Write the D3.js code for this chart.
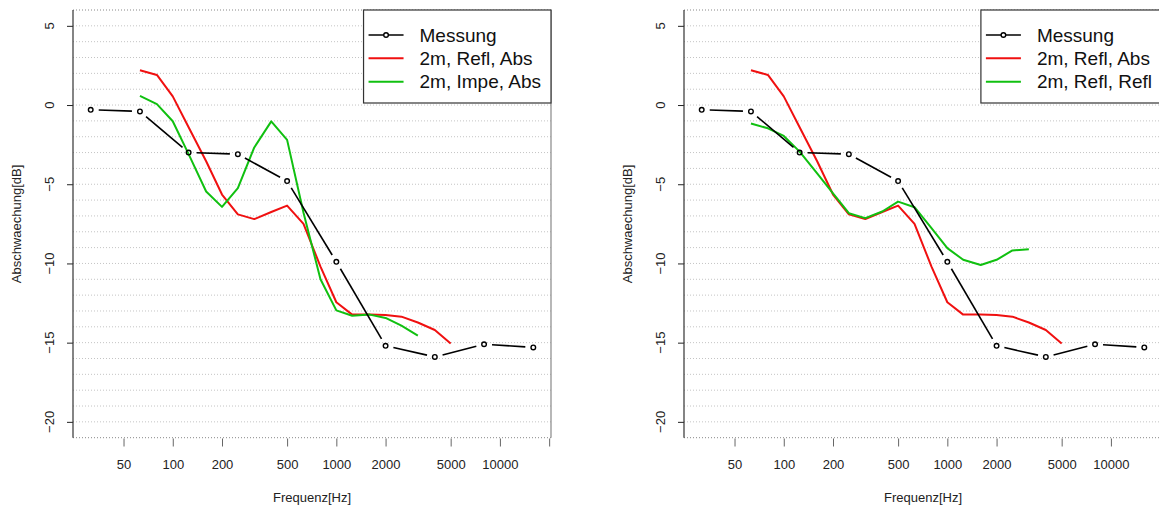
<!DOCTYPE html>
<html>
<head>
<meta charset="utf-8">
<script src="https://cdn.jsdelivr.net/npm/d3@7"></script>
<style>
  html, body { margin: 0; padding: 0; background: #fff; overflow: hidden; }
  svg { display: block; font-family: "Liberation Sans", Arial, sans-serif; }
</style>
</head>
<body>
<svg id="chart" width="1159" height="508"></svg>
<script>
// ---- data ----
const freqOct = [31.5, 63, 125, 250, 500, 1000, 2000, 4000, 8000, 16000];
const messung = [-0.3, -0.4, -3.0, -3.1, -4.8, -9.9, -15.2, -15.9, -15.1, -15.3];
const freqThird = [63, 80, 100, 125, 160, 200, 250, 315, 400, 500, 630, 800, 1000, 1250, 1600, 2000, 2500, 3150, 4000, 5000];
const reflAbs = [2.2, 1.9, 0.55, -1.4, -3.55, -5.65, -6.9, -7.2, -6.75, -6.35, -7.5, -10.2, -12.45, -13.23, -13.23, -13.25, -13.36, -13.73, -14.2, -15.05];
const impeAbs = [0.58, 0.06, -1.02, -3.1, -5.46, -6.43, -5.25, -2.68, -1.03, -2.2, -6.8, -11.0, -12.96, -13.3, -13.23, -13.44, -13.93, -14.55];
const reflRefl = [-1.16, -1.47, -1.95, -2.94, -4.31, -5.57, -6.83, -7.14, -6.72, -6.1, -6.45, -7.77, -9.03, -9.77, -10.1, -9.77, -9.18, -9.1];
const xTickValues = [50, 100, 200, 500, 1000, 2000, 5000, 10000, 20000];
const xTickLabels = ["50", "100", "200", "500", "1000", "2000", "5000", "10000", ""];
const yTickValues = [5, 0, -5, -10, -15, -20];
const legendLeft = ["Messung", "2m, Refl, Abs", "2m, Impe, Abs"];
const legendRight = ["Messung", "2m, Refl, Abs", "2m, Refl, Refl"];
const xTitle = "Frequenz[Hz]";
const yTitle = "Abschwaechung[dB]";

const RED = "#f01010", GREEN = "#10c010", BLACK = "#000";

const svg = d3.select("#chart");

function panel(offset, greenSeries, legendLabels) {
  const g = svg.append("g").attr("transform", `translate(${offset},0)`);
  const lo = Math.log10(31.5), hi = Math.log10(16000), ext = (hi - lo) * 0.04;
  const x = d3.scaleLog().domain([Math.pow(10, lo - ext), Math.pow(10, hi + ext)]).range([73, 551]);
  const y = d3.scaleLinear().domain([-21, 6]).range([437.7, 10]);

  // grid (dotted)
  const gridVals = d3.range(-21, 7);
  g.selectAll(".grid").data(gridVals).enter().append("line")
    .attr("x1", 73).attr("x2", 551)
    .attr("y1", d => y(d)).attr("y2", d => y(d))
    .attr("stroke", d => (d === -21 || d === 6) ? "#888" : "#c4c4c4")
    .attr("stroke-width", 1)
    .attr("stroke-dasharray", "1,2");

  // right border
  g.append("line").attr("x1", 551).attr("x2", 551).attr("y1", 10).attr("y2", 437.7)
    .attr("stroke", "#888").attr("stroke-width", 1.2);

  // y axis
  const yAxis = d3.axisLeft(y).tickValues(yTickValues).tickSize(6).tickFormat(d3.format("d"));
  const ya = g.append("g").attr("transform", "translate(73,0)").call(yAxis);
  ya.select(".domain").remove();
  ya.selectAll(".tick line").attr("stroke", "#222");
  ya.selectAll(".tick text").remove();
  g.append("line").attr("x1", 73).attr("x2", 73).attr("y1", 10).attr("y2", 437.7)
    .attr("stroke", "#333").attr("stroke-width", 1.2);
  g.selectAll(".ylab").data(yTickValues).enter().append("text")
    .attr("transform", d => `translate(53.5,${y(d)}) rotate(-90)`)
    .attr("text-anchor", "middle").attr("font-size", 13).attr("fill", "#222")
    .text(d => d3.format("d")(d));

  // x axis
  const xAxis = d3.axisBottom(x).tickValues(xTickValues).tickSize(8).tickFormat((d, i) => xTickLabels[i]);
  const xa = g.append("g").attr("transform", "translate(0,438.5)").call(xAxis);
  xa.select(".domain").remove();
  xa.selectAll(".tick line").attr("stroke", "#666");
  xa.selectAll(".tick text").attr("font-size", 13).attr("fill", "#222").attr("dy", null).attr("y", 30.5)
    .attr("font-family", "Liberation Sans, Arial, sans-serif");

  // axis titles
  g.append("text").attr("x", 312).attr("y", 502).attr("text-anchor", "middle")
    .attr("font-size", 13).attr("fill", "#222").text(xTitle);
  g.append("text").attr("transform", "translate(20.5,224) rotate(-90)").attr("text-anchor", "middle")
    .attr("font-size", 13).attr("fill", "#222").text(yTitle);

  // series lines
  const line = d3.line().x(d => x(d[0])).y(d => y(d[1]));
  g.append("path").datum(freqThird.map((f, i) => [f, reflAbs[i]]))
    .attr("d", line).attr("fill", "none").attr("stroke", RED).attr("stroke-width", 2)
    .attr("stroke-linejoin", "round");
  g.append("path").datum(greenSeries.map((v, i) => [freqThird[i], v]))
    .attr("d", line).attr("fill", "none").attr("stroke", GREEN).attr("stroke-width", 2)
    .attr("stroke-linejoin", "round");

  // Messung: type "b" (points + gapped segments)
  const pts = freqOct.map((f, i) => [x(f), y(messung[i])]);
  const gap = 8;
  const segs = [];
  for (let i = 0; i < pts.length - 1; i++) {
    const [x1, y1] = pts[i], [x2, y2] = pts[i + 1];
    const dx = x2 - x1, dy = y2 - y1, L = Math.hypot(dx, dy);
    if (L > 2 * gap) {
      const ux = dx / L, uy = dy / L;
      segs.push([x1 + ux * gap, y1 + uy * gap, x2 - ux * gap, y2 - uy * gap]);
    }
  }
  g.selectAll(".seg").data(segs).enter().append("line")
    .attr("x1", d => d[0]).attr("y1", d => d[1]).attr("x2", d => d[2]).attr("y2", d => d[3])
    .attr("stroke", BLACK).attr("stroke-width", 1.6);
  g.selectAll(".pt").data(pts).enter().append("circle")
    .attr("cx", d => d[0]).attr("cy", d => d[1]).attr("r", 2.3)
    .attr("fill", "none").attr("stroke", BLACK).attr("stroke-width", 1.4);

  // legend
  const lg = g.append("g");
  const rows = [35, 58.3, 81.7];
  const texts = lg.selectAll(".lt").data(legendLabels).enter().append("text")
    .attr("y", (d, i) => rows[i]).attr("dy", "0.35em")
    .attr("font-size", 19).attr("fill", "#111").text(d => d);
  let maxW = 0;
  texts.each(function () { maxW = Math.max(maxW, this.getComputedTextLength()); });
  const boxW = 5 + 35 + 16 + maxW + 10;
  const bx = 551 - boxW;
  lg.insert("rect", "text").attr("x", bx).attr("y", 10).attr("width", boxW).attr("height", 93)
    .attr("fill", "#fff").attr("stroke", "#333").attr("stroke-width", 1.2);
  texts.attr("x", bx + 56);
  const cols = [BLACK, RED, GREEN];
  lg.selectAll(".ll").data(cols).enter().append("line")
    .attr("x1", bx + 5).attr("x2", bx + 40)
    .attr("y1", (d, i) => rows[i]).attr("y2", (d, i) => rows[i])
    .attr("stroke", d => d).attr("stroke-width", (d, i) => i === 0 ? 1.6 : 2);
  lg.append("circle").attr("cx", bx + 22.5).attr("cy", rows[0]).attr("r", 2.3)
    .attr("fill", "#fff").attr("stroke", BLACK).attr("stroke-width", 1.4);
}

panel(0, impeAbs, legendLeft);
panel(611, reflRefl, legendRight);
</script>
</body>
</html>
